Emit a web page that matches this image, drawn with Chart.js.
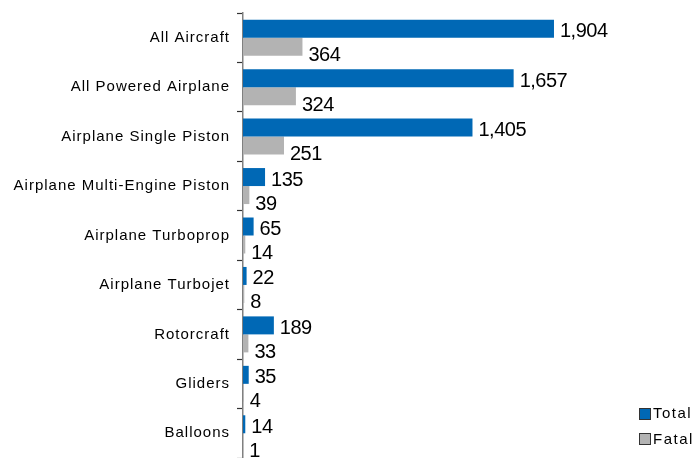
<!DOCTYPE html>
<html>
<head>
<meta charset="utf-8">
<script src="https://cdn.jsdelivr.net/npm/chart.js@4"></script>
<style>
  html, body { margin: 0; padding: 0; background: #fff; }
  #wrap { position: relative; width: 696px; height: 458px; overflow: hidden; }
  .key { position: absolute; font: 15px "Liberation Sans", Arial, sans-serif; letter-spacing: 1.5px; color: #000; line-height: 15px; }
  .swatch { position: absolute; width: 12px; height: 12px; box-sizing: border-box; border: 1.5px solid #333; }
</style>
</head>
<body>
<div id="wrap">
  <canvas id="accidents" width="696" height="458"></canvas>
  <div class="swatch" style="left:639px; top:408px; background:#0068B5"></div>
  <div class="key" style="left:653px; top:405px">Total</div>
  <div class="swatch" style="left:639px; top:433px; background:#B3B3B3"></div>
  <div class="key" style="left:653px; top:431px">Fatal</div>
</div>
<script>
const categories = [
    'All Aircraft',
    'All Powered Airplane',
    'Airplane Single Piston',
    'Airplane Multi-Engine Piston',
    'Airplane Turboprop',
    'Airplane Turbojet',
    'Rotorcraft',
    'Gliders',
    'Balloons'
];
const totalAccidents = [1904, 1657, 1405, 135, 65, 22, 189, 35, 14];
const fatalAccidents = [364, 324, 251, 39, 14, 8, 33, 4, 1];

const FONT = '"Liberation Sans", Arial, sans-serif';

// spacing for the category names on the left
const spacedLabels = {
    id: 'spacedLabels',
    beforeDraw(chart) { chart.ctx.letterSpacing = '1px'; },
    afterDraw(chart) { chart.ctx.letterSpacing = '0px'; }
};

// numbers printed just past the end of each bar
const valueLabels = {
    id: 'valueLabels',
    afterDatasetsDraw(chart) {
        const ctx = chart.ctx;
        ctx.save();
        ctx.letterSpacing = '-0.5px';
        ctx.font = '20px ' + FONT;
        ctx.fillStyle = '#000';
        ctx.textAlign = 'left';
        ctx.textBaseline = 'middle';
        chart.data.datasets.forEach((ds, i) => {
            const shift = i === 0 ? 3 : 9;
            chart.getDatasetMeta(i).data.forEach((bar, j) => {
                ctx.fillText(ds.data[j].toLocaleString('en-US'), bar.x + 6, bar.y + shift);
            });
        });
        ctx.restore();
    }
};

new Chart(document.getElementById('accidents'), {
    type: 'bar',
    data: {
        labels: categories,
        datasets: [{
            label: 'Total',
            data: totalAccidents,
            backgroundColor: '#0068B5',
            borderWidth: 0
        }, {
            label: 'Fatal',
            data: fatalAccidents,
            backgroundColor: '#B3B3B3',
            borderWidth: 0
        }]
    },
    options: {
        indexAxis: 'y',
        responsive: false,
        animation: false,
        categoryPercentage: 0.728,
        barPercentage: 1,
        layout: { padding: { top: 13, right: 61, bottom: 0, left: 0 } },
        plugins: {
            legend: { display: false },
            tooltip: { enabled: false }
        },
        scales: {
            x: {
                display: false,
                min: 0,
                max: 2400
            },
            y: {
                afterFit(scale) {
                    scale.width = 243;
                    scale.paddingTop = 0;
                    scale.paddingBottom = 0;
                },
                border: { display: true, color: '#808080', width: 1.5 },
                grid: {
                    offset: true,
                    drawOnChartArea: false,
                    drawTicks: true,
                    tickLength: 6,
                    tickColor: '#333',
                    tickWidth: 1.2
                },
                ticks: {
                    color: '#000',
                    padding: 7,
                    font: { family: FONT, size: 15 }
                }
            }
        }
    },
    plugins: [spacedLabels, valueLabels]
});
</script>
</body>
</html>
